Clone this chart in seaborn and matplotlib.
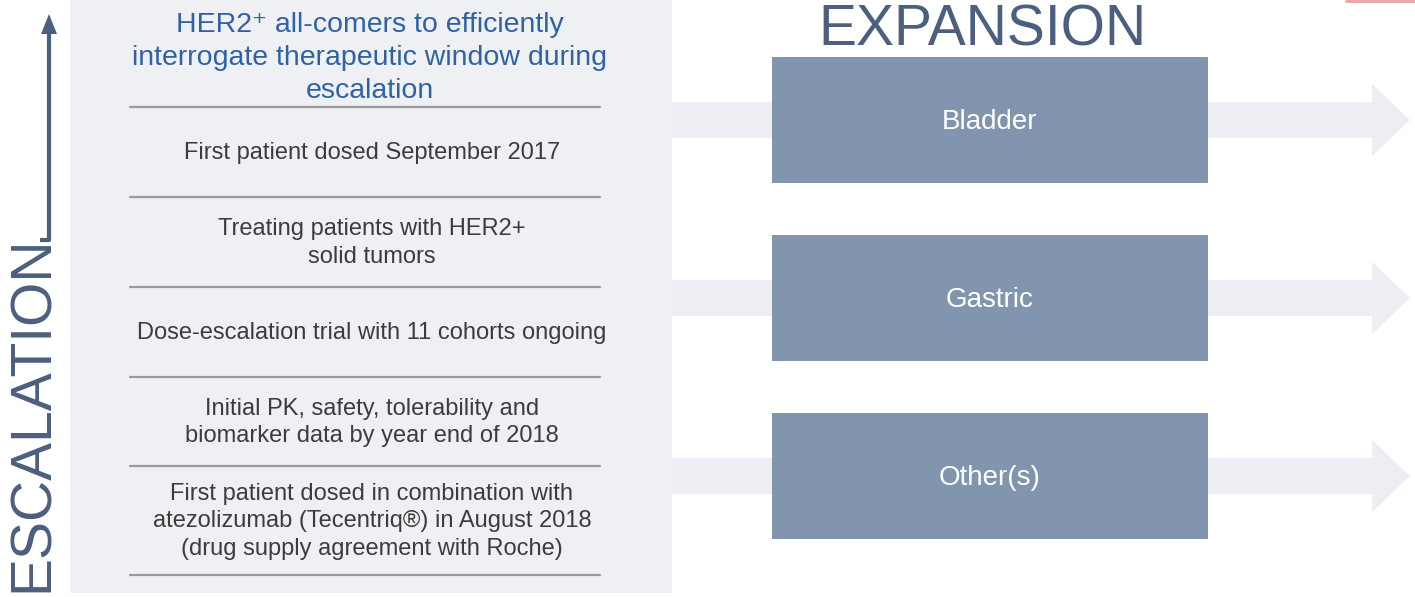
"""
Escalation / expansion trial design diagram
"""

import matplotlib
matplotlib.use("Agg")
import matplotlib.pyplot as plt
from matplotlib.patches import Rectangle, Polygon
import seaborn as sns

# --- content ---
header_text = "HER2\u207a all-comers to efficiently\ninterrogate therapeutic window during\nescalation"
escalation_items = [
    "First patient dosed September 2017",
    "Treating patients with HER2+\nsolid tumors",
    "Dose-escalation trial with 11 cohorts ongoing",
    "Initial PK, safety, tolerability and\nbiomarker data by year end of 2018",
    "First patient dosed in combination with\natezolizumab (Tecentriq\u00ae) in August 2018\n(drug supply agreement with Roche)",
]
expansion_arms = ["Bladder", "Gastric", "Other(s)"]
left_title = "ESCALATION"
right_title = "EXPANSION"

# separators between the escalation rows (pixel rows of the slide)
separator_rows = [107, 197, 287, 377, 466, 575]
arm_centers = [120, 298, 476]

W, H = 1415, 597
panel_bg = "#eef0f4"
arrow_bg = "#eceef3"
box_col = "#8295ae"
title_col = "#4c5f7f"
head_col = "#2f62a3"
body_col = "#3c3c3c"

sns.set_theme(style="white")
plt.rcParams["font.family"] = ["Liberation Sans", "DejaVu Sans"]

fig = plt.figure(figsize=(W / 100, H / 100), dpi=100)
ax = fig.add_axes([0, 0, 1, 1])
ax.set_xlim(0, W)
ax.set_ylim(H, 0)
ax.axis("off")

# faint wide arrows behind the expansion boxes
for yc in arm_centers:
    ax.add_patch(Rectangle((620, yc - 18), 752, 36, color=arrow_bg, lw=0, zorder=1))
    ax.add_patch(Polygon([(1372, yc - 36), (1410, yc), (1372, yc + 36)],
                         closed=True, color=arrow_bg, lw=0, zorder=1))

# left panel
ax.add_patch(Rectangle((70, 0), 602, 593, color=panel_bg, lw=0, zorder=2))

# header text
ax.text(370, 58, header_text, ha="center", va="center", fontsize=20.5,
        color=head_col, linespacing=1.33, zorder=5)

# separators and row text
for y in separator_rows:
    ax.plot([130, 600], [y, y], color="#9a9a9a", lw=1.6, zorder=4)

for i, item in enumerate(escalation_items):
    yc = (separator_rows[i] + separator_rows[i + 1]) / 2
    ax.text(372, yc + 1, item, ha="center", va="center", fontsize=17,
            color=body_col, linespacing=1.31, zorder=5)

# expansion boxes
for yc, arm in zip(arm_centers, expansion_arms):
    ax.add_patch(Rectangle((772, yc - 63), 436, 126, color=box_col, lw=0, zorder=3))
    ax.text(990, yc + 2, arm, ha="center", va="center", fontsize=20,
            color="white", zorder=5)

ax.text(982, 45, right_title, ha="center", va="baseline", fontsize=41,
        color=title_col, zorder=5)

# vertical ESCALATION label and its arrow
ax.text(33, 592, left_title, ha="center", va="bottom", rotation=90,
        fontsize=41, color=title_col, zorder=5)
ax.plot([40, 49, 49], [240, 240, 32], color=title_col, lw=3, zorder=5,
        solid_capstyle="butt")
ax.add_patch(Polygon([(41, 34), (49, 14), (57, 34)], closed=True,
                     color=title_col, lw=0, zorder=5))

# little red mark top-right
ax.plot([1346, 1415], [1, 1], color="#e8a0a0", lw=2, zorder=5)

fig.savefig("out.png", dpi=100)
